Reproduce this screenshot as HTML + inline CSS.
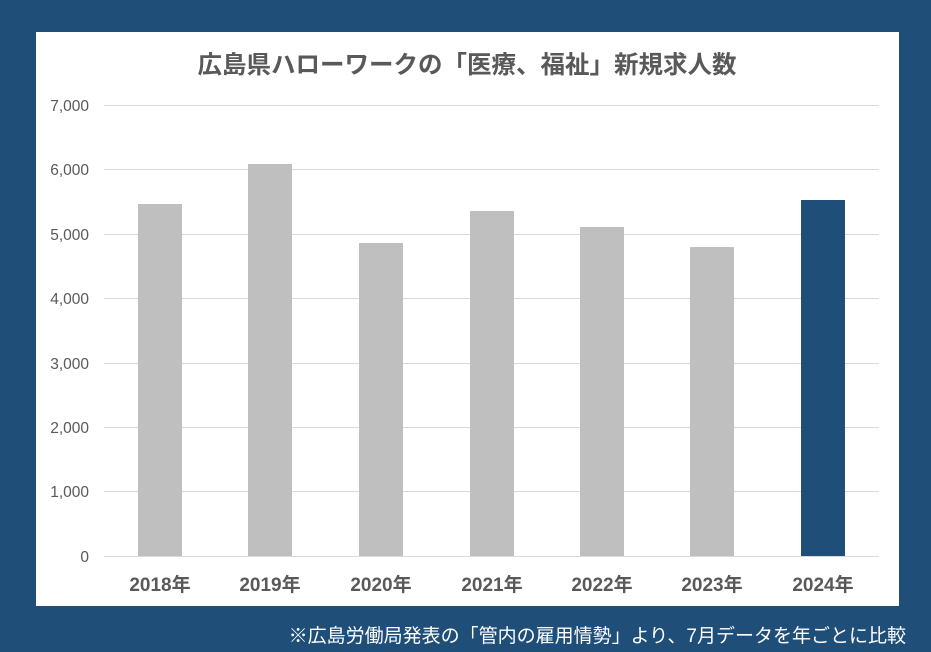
<!DOCTYPE html>
<html><head><meta charset="utf-8"><style>
body{margin:0;width:931px;height:652px;background:#1f4e79;overflow:hidden;font-family:"Liberation Sans","Noto Sans CJK JP",sans-serif;}
</style></head><body>
<svg width="931" height="652" xmlns="http://www.w3.org/2000/svg" style="position:absolute;left:0;top:0">
<rect x="0" y="0" width="931" height="652" fill="#1f4e79"/>
<rect x="36" y="32" width="863" height="574" fill="#fff"/>
<text x="467" y="73" text-anchor="middle" font-size="24.5" font-weight="bold" fill="#595959" font-family="Liberation Sans, Noto Sans CJK JP, sans-serif">広島県ハローワークの「医療、福祉」新規求人数</text>
<g stroke="#d9d9d9" stroke-width="1">
<line x1="104" x2="879" y1="105.5" y2="105.5"/>
<line x1="104" x2="879" y1="169.5" y2="169.5"/>
<line x1="104" x2="879" y1="234.5" y2="234.5"/>
<line x1="104" x2="879" y1="298.5" y2="298.5"/>
<line x1="104" x2="879" y1="363.5" y2="363.5"/>
<line x1="104" x2="879" y1="427.5" y2="427.5"/>
<line x1="104" x2="879" y1="491.5" y2="491.5"/>
<line x1="104" x2="879" y1="556.5" y2="556.5"/>
</g>
<g font-size="15.5" fill="#595959" text-anchor="end">
<text x="89" y="111">7,000</text>
<text x="89" y="175">6,000</text>
<text x="89" y="240">5,000</text>
<text x="89" y="304">4,000</text>
<text x="89" y="369">3,000</text>
<text x="89" y="433">2,000</text>
<text x="89" y="497">1,000</text>
<text x="89" y="562">0</text>
</g>
<g fill="#bfbfbf">
<rect x="138" y="204" width="44" height="352"/>
<rect x="248" y="164" width="44" height="392"/>
<rect x="359" y="243" width="44" height="313"/>
<rect x="470" y="211" width="44" height="345"/>
<rect x="580" y="227" width="44" height="329"/>
<rect x="690" y="247" width="44" height="309"/>
</g>
<rect x="801" y="200" width="44" height="356" fill="#1f4e79"/>
<g font-size="19" font-weight="bold" fill="#595959" text-anchor="middle">
<text x="160" y="591">2018年</text>
<text x="270" y="591">2019年</text>
<text x="381" y="591">2020年</text>
<text x="492" y="591">2021年</text>
<text x="602" y="591">2022年</text>
<text x="712" y="591">2023年</text>
<text x="823" y="591">2024年</text>
</g>
<text x="906" y="642" text-anchor="end" font-size="19" fill="#fff">※広島労働局発表の「管内の雇用情勢」より、7月データを年ごとに比較</text>
</svg>
</body></html>
